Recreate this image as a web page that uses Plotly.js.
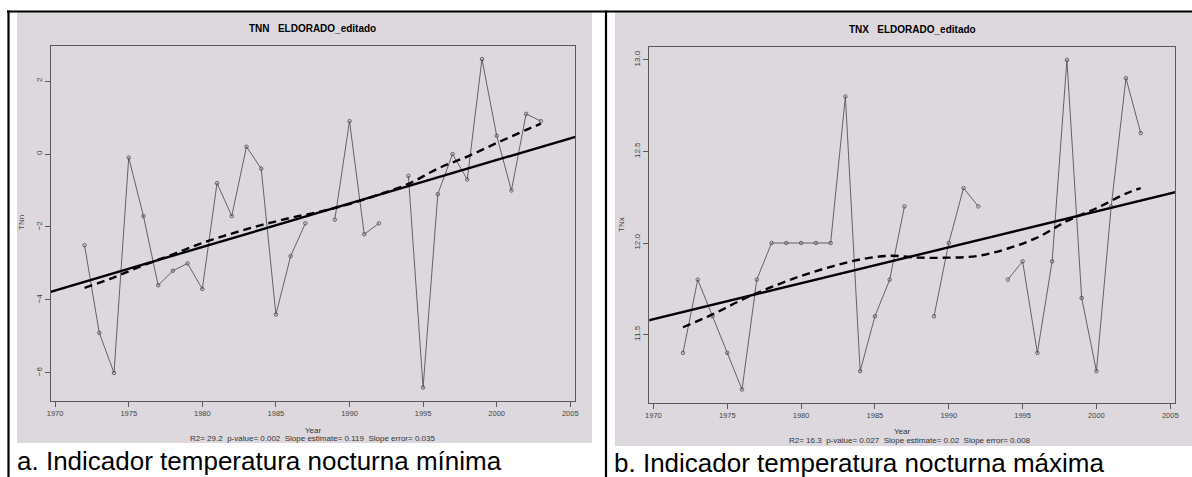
<!DOCTYPE html>
<html>
<head>
<meta charset="utf-8">
<script src="https://cdn.plot.ly/plotly-3.0.1.min.js"></script>
<style>html,body{margin:0;padding:0;background:#fff;}#chart{width:1192px;height:477px;}</style>
</head>
<body>
<div id="chart"></div>
<script>
// ---------- data ----------
const years = [1972,1973,1974,1975,1976,1977,1978,1979,1980,1981,1982,1983,1984,1985,1986,1987,1988,1989,1990,1991,1992,1993,1994,1995,1996,1997,1998,1999,2000,2001,2002,2003];
const tnn = [-2.5,-4.9,-6.0,-0.1,-1.7,-3.6,-3.2,-3.0,-3.7,-0.8,-1.7,0.2,-0.4,-4.4,-2.8,-1.9,null,-1.8,0.9,-2.2,-1.9,null,-0.6,-6.4,-1.1,0.0,-0.7,2.6,0.5,-1.0,1.1,0.9];
const tnx = [11.4,11.8,11.6,11.4,11.2,11.8,12.0,12.0,12.0,12.0,12.0,12.8,11.3,11.6,11.8,12.2,null,11.6,12.0,12.3,12.2,null,11.8,11.9,11.4,11.9,13.0,11.7,11.3,12.2,12.9,12.6];

// smoothed (loess) curves
const smoothYears = [1972,1974,1976,1978,1980,1982,1984,1986,1988,1990,1992,1994,1996,1998,2000,2002,2003];
const tnnSmooth = [-3.67,-3.38,-3.05,-2.75,-2.44,-2.18,-1.95,-1.75,-1.58,-1.37,-1.11,-0.82,-0.40,-0.07,0.30,0.66,0.83];
const tnxSmooth = [11.54,11.61,11.69,11.76,11.82,11.87,11.91,11.93,11.92,11.92,11.93,11.97,12.03,12.12,12.19,12.27,12.30];

// linear trend lines (ends)
const trendYears = [1969, 2006];
const tnnTrend = [-3.86, 0.55];
const tnxTrend = [11.565, 12.29];

const xTicks = [1970,1975,1980,1985,1990,1995,2000,2005];
const tnnTicks = [-6,-4,-2,0,2];
const tnxTicks = [11.5,12.0,12.5,13.0];
const tnxTickText = ['11.5','12.0','12.5','13.0'];

const titles = ['TNN\u00a0\u00a0\u00a0ELDORADO_editado','TNX\u00a0\u00a0\u00a0ELDORADO_editado'];
const yTitles = ['TNn','TNx'];
const stats = ['R2= 29.2\u00a0\u00a0p-value= 0.002\u00a0\u00a0Slope estimate= 0.119\u00a0\u00a0Slope error= 0.035',
               'R2= 16.3\u00a0\u00a0p-value= 0.027\u00a0\u00a0Slope estimate= 0.02\u00a0\u00a0Slope error= 0.008'];
const captions = ['a. Indicador temperatura nocturna mínima','b. Indicador temperatura nocturna máxima'];

// ---------- layout helpers ----------
const W = 1192, H = 477;
const fx = p => p / W;
const fy = p => 1 - p / H;
const FONT = 'Liberation Sans, Arial, sans-serif';
const BG = '#dcd8de';
const AX = '#5a5a5a';

function dataTrace(y, xa, ya) {
  return {x: years, y: y, xaxis: xa, yaxis: ya, type: 'scatter', mode: 'lines+markers',
    connectgaps: false, line: {color: '#555', width: 0.9},
    marker: {symbol: 'circle-open', size: 3.5, color: '#555', line: {width: 0.9}}, hoverinfo: 'skip'};
}
function lineTrace(x, y, xa, ya, dash) {
  return {x: x, y: y, xaxis: xa, yaxis: ya, type: 'scatter', mode: 'lines',
    line: {color: '#000', width: 2.4, dash: dash, shape: dash === 'solid' ? 'linear' : 'spline'}, hoverinfo: 'skip'};
}

const traces = [
  dataTrace(tnn, 'x', 'y'),
  lineTrace(trendYears, tnnTrend, 'x', 'y', 'solid'),
  lineTrace(smoothYears, tnnSmooth, 'x', 'y', '8px,5px'),
  dataTrace(tnx, 'x2', 'y2'),
  lineTrace(trendYears, tnxTrend, 'x2', 'y2', 'solid'),
  lineTrace(smoothYears, tnxSmooth, 'x2', 'y2', '8px,5px')
];

function xaxis(domain, anchor) {
  return {domain: domain, anchor: anchor, range: [1969.72, 2005.32], tickvals: xTicks,
    ticks: 'outside', ticklen: 5, tickwidth: 1, tickcolor: AX, showgrid: false, zeroline: false,
    showline: true, linecolor: AX, linewidth: 1, mirror: true,
    tickfont: {family: FONT, size: 7.5, color: '#444'}};
}
function yaxis(domain, anchor, range, vals, text) {
  const a = {domain: domain, anchor: anchor, range: range, tickvals: vals, tickangle: -90,
    ticks: 'outside', ticklen: 5, tickwidth: 1, tickcolor: AX, showgrid: false, zeroline: false,
    showline: true, linecolor: AX, linewidth: 1, mirror: true,
    tickfont: {family: FONT, size: 8, color: '#444'}};
  if (text) a.ticktext = text;
  return a;
}

const annotations = [];
function ann(text, x, y, size, opts) {
  annotations.push(Object.assign({text: text, x: fx(x), y: fy(y), xref: 'paper', yref: 'paper',
    showarrow: false, xanchor: 'center', yanchor: 'middle',
    font: {family: FONT, size: size, color: '#000'}}, opts || {}));
}
// panel titles
ann('<b>' + titles[0] + '</b>', 312, 29, 10);
ann('<b>' + titles[1] + '</b>', 912, 30, 10);
// y titles
ann(yTitles[0], 21, 223, 8, {textangle: -90, font: {family: FONT, size: 8, color: '#444'}});
ann(yTitles[1], 621, 225, 8, {textangle: -90, font: {family: FONT, size: 8, color: '#444'}});
// x titles
ann('Year', 313, 430.5, 8, {font: {family: FONT, size: 8, color: '#333'}});
ann('Year', 902, 431.5, 8, {font: {family: FONT, size: 8, color: '#333'}});
// stats lines
ann(stats[0], 312, 438.5, 8, {font: {family: FONT, size: 8, color: '#333'}});
ann(stats[1], 910, 440.5, 8, {font: {family: FONT, size: 8, color: '#333'}});
// captions
ann(captions[0], 15, 461, 26, {xanchor: 'left'});
ann(captions[1], 612, 463, 26, {xanchor: 'left'});

const shapes = [
  {type: 'rect', xref: 'paper', yref: 'paper', x0: fx(17), x1: fx(592), y0: fy(443), y1: fy(12), fillcolor: BG, line: {width: 0}, layer: 'below'},
  {type: 'rect', xref: 'paper', yref: 'paper', x0: fx(615), x1: fx(1192), y0: fy(446), y1: fy(12), fillcolor: BG, line: {width: 0}, layer: 'below'},
  {type: 'line', xref: 'paper', yref: 'paper', x0: fx(7), x1: fx(1192), y0: fy(11.5), y1: fy(11.5), line: {color: '#000', width: 2.2}},
  {type: 'line', xref: 'paper', yref: 'paper', x0: fx(8.5), x1: fx(8.5), y0: fy(10.5), y1: fy(477), line: {color: '#000', width: 2.2}},
  {type: 'line', xref: 'paper', yref: 'paper', x0: fx(606), x1: fx(606), y0: fy(10.5), y1: fy(477), line: {color: '#000', width: 2.2}}
];

const layout = {
  width: W, height: H, margin: {l: 0, r: 0, t: 0, b: 0},
  paper_bgcolor: '#fff', plot_bgcolor: BG, showlegend: false,
  xaxis: xaxis([fx(51), fx(575)], 'y'),
  yaxis: yaxis([fy(401), fy(46)], 'x', [-6.77, 2.96], tnnTicks),
  xaxis2: xaxis([fx(649.3), fx(1175)], 'y2'),
  yaxis2: yaxis([fy(402.7), fy(46.7)], 'x2', [11.128, 13.072], tnxTicks, tnxTickText),
  annotations: annotations, shapes: shapes
};

Plotly.newPlot('chart', traces, layout, {staticPlot: true, displayModeBar: false});
</script>
</body>
</html>
